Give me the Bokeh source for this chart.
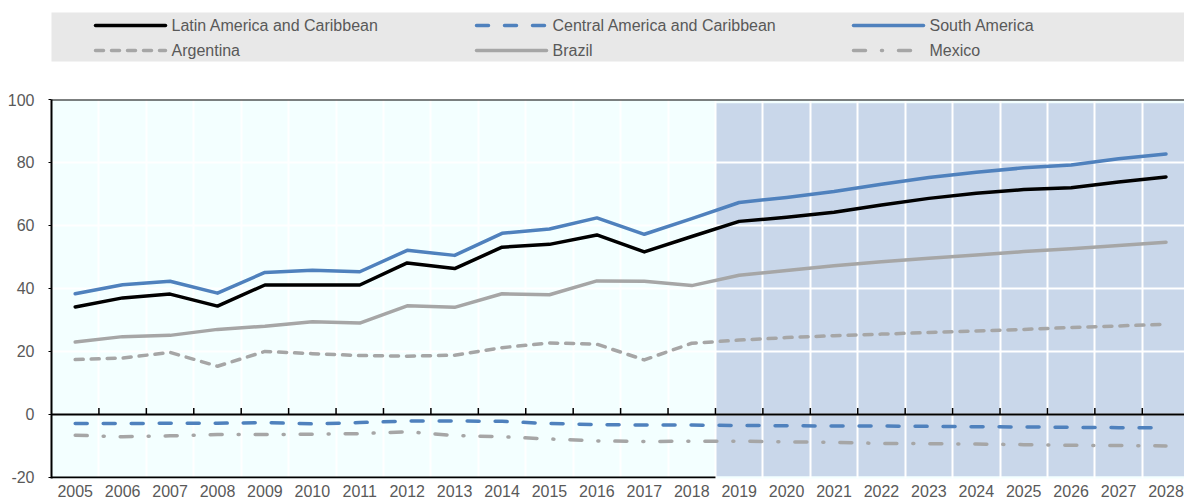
from bokeh.plotting import figure
from bokeh.models import Range1d, LinearAxis, FixedTicker, Span, Label, Grid
from bokeh.layouts import column
from bokeh.core.properties import value
from bokeh.embed import file_html
from bokeh.resources import INLINE

years = ["2005", "2006", "2007", "2008", "2009", "2010", "2011", "2012", "2013", "2014", "2015", "2016",
         "2017", "2018", "2019", "2020", "2021", "2022", "2023", "2024", "2025", "2026", "2027", "2028"]
projection_start = "2019"

lac = [34.1, 37.0, 38.2, 34.4, 41.1, 41.1, 41.1, 48.1, 46.3, 53.1, 54.0, 57.0,
       51.6, 56.5, 61.3, 62.6, 64.2, 66.5, 68.6, 70.2, 71.4, 72.0, 73.8, 75.4]
central = [-2.9, -2.9, -2.8, -2.8, -2.6, -3.0, -2.6, -2.1, -2.1, -2.2, -2.9, -3.2,
           -3.4, -3.4, -3.5, -3.6, -3.7, -3.7, -3.8, -3.9, -4.0, -4.1, -4.2, -4.3]
south = [38.3, 41.2, 42.3, 38.5, 45.1, 45.8, 45.3, 52.1, 50.5, 57.5, 58.9, 62.4,
         57.2, 62.2, 67.3, 68.9, 70.8, 73.1, 75.2, 76.9, 78.3, 79.2, 81.2, 82.7]
argentina = [17.4, 17.9, 19.7, 15.3, 20.0, 19.3, 18.7, 18.5, 18.8, 21.2, 22.7, 22.3,
             17.3, 22.6, 23.6, 24.4, 25.0, 25.5, 26.0, 26.5, 27.0, 27.6, 28.1, 28.6]
brazil = [23.0, 24.7, 25.1, 27.0, 28.0, 29.4, 29.0, 34.5, 34.0, 38.3, 38.0, 42.4,
          42.3, 40.9, 44.2, 45.7, 47.2, 48.5, 49.6, 50.6, 51.7, 52.6, 53.6, 54.7]
mexico = [-6.6, -7.1, -6.8, -6.4, -6.4, -6.3, -6.1, -5.5, -6.7, -7.1, -7.8, -8.4,
          -8.6, -8.5, -8.5, -8.7, -8.9, -9.2, -9.3, -9.4, -9.6, -9.8, -9.9, -10.0]

series_names = ["Latin America and Caribbean", "Central America and Caribbean", "South America",
                "Argentina", "Brazil", "Mexico"]
y_ticks = [-20, 0, 20, 40, 60, 80, 100]
y_unit = "bln USD"

FONT = "Liberation Sans"
TXT = "#595959"
BLUE = "#4F81BD"
GREY = "#A6A6A6"

styles = [
    dict(color="black", dash="solid"),
    dict(color=BLUE, dash="12 16"),
    dict(color=BLUE, dash="solid"),
    dict(color=GREY, dash="8 8"),
    dict(color=GREY, dash="solid"),
    dict(color=GREY, dash="12 16 1 16"),
]
data = [lac, central, south, argentina, brazil, mexico]

xs = list(range(len(years)))
bounds = [i + 0.5 for i in xs[:-1]]
proj_idx = years.index(projection_start)

# ---------------- main chart ----------------
p = figure(width=1184, height=440, x_range=Range1d(-0.5, 23.39), y_range=Range1d(y_ticks[0] - 0.35, y_ticks[-1]),
           output_backend="svg", toolbar_location=None, x_axis_type=None, y_axis_type=None,
           min_border_left=49, min_border_right=0, min_border_top=37, min_border_bottom=24)
p.outline_line_color = None
p.background_fill_color = "#F3FFFF"
p.border_fill_color = "white"

# projection shading
p.quad(left=[proj_idx - 0.5], right=[len(years)], bottom=[-19.6], top=[98.8],
       fill_color="#C9D7EA", line_color=None, level="image")

gx = Grid(dimension=0, ticker=FixedTicker(ticks=bounds), grid_line_color="white", grid_line_width=2)
gy = Grid(dimension=1, ticker=FixedTicker(ticks=y_ticks[1:]), grid_line_color="white", grid_line_width=2)
p.add_layout(gx)
p.add_layout(gy)

yaxis = LinearAxis(ticker=FixedTicker(ticks=y_ticks),
                   major_label_overrides={t: str(t) for t in y_ticks})
yaxis.axis_line_color = "black"
yaxis.axis_line_width = 2
yaxis.major_tick_line_color = "black"
yaxis.major_tick_out = 3
yaxis.major_tick_in = 0
yaxis.minor_tick_line_color = None
yaxis.major_label_standoff = 14
yaxis.major_label_text_font = FONT
yaxis.major_label_text_font_size = "16px"
yaxis.major_label_text_color = TXT
p.add_layout(yaxis, "left")

xaxis = LinearAxis(ticker=FixedTicker(ticks=xs),
                   major_label_overrides={i: y for i, y in zip(xs, years)})
xaxis.axis_line_color = None
xaxis.major_tick_line_color = None
xaxis.minor_tick_line_color = None
xaxis.major_tick_out = 0
xaxis.major_tick_in = 0
xaxis.major_label_standoff = 6
xaxis.major_label_text_font = FONT
xaxis.major_label_text_font_size = "16px"
xaxis.major_label_text_color = TXT
p.add_layout(xaxis, "below")

# zero axis with upward ticks
p.add_layout(Span(location=0, dimension="width", line_color="black", line_width=2))
p.segment(x0=bounds, y0=[0] * len(bounds), x1=bounds, y1=[2] * len(bounds), line_color="black", line_width=1.5)
# top border and bottom border of historical part
p.add_layout(Span(location=y_ticks[-1], dimension="width", line_color="black", line_width=2))
p.segment(x0=[-0.5], y0=[y_ticks[0]], x1=[proj_idx - 0.5], y1=[y_ticks[0]], line_color="black", line_width=2)

for vals, st in zip(data, styles):
    p.line(xs, vals, line_color=st["color"], line_width=3.5, line_dash=st["dash"],
           line_cap="round", line_join="round")

p.add_layout(Label(x=-0.5, y=y_ticks[-1], x_offset=-41, y_offset=24, text=y_unit,
                   text_font=FONT, text_font_size="16px", text_color=TXT, text_baseline="middle"))

# ---------------- legend ----------------
lg = figure(width=1184, height=62, x_range=Range1d(0, 1133), y_range=Range1d(0, 49),
            output_backend="svg", toolbar_location=None, x_axis_type=None, y_axis_type=None,
            min_border_left=51, min_border_right=0, min_border_top=12, min_border_bottom=1)
lg.outline_line_color = None
lg.background_fill_color = "#E8E8E8"
lg.border_fill_color = "white"
lg.grid.visible = False

col_text_x = [120, 501, 878]
row_y = [36, 11]
for k, (name, st) in enumerate(zip(series_names, styles)):
    r, c = divmod(k, 3)
    tx = col_text_x[c]
    ty = row_y[r]
    lg.line([tx - 76, tx - 6], [ty, ty], line_color=st["color"], line_width=3.5,
            line_dash=st["dash"], line_cap="round")
    lg.text(x=[tx], y=[ty], text=[name], text_font=value(FONT), text_font_size="16px",
            text_color=TXT, text_baseline="middle", text_align="left")

layout = column(lg, p, spacing=0)
open("out.html", "w").write(file_html(layout, INLINE))
